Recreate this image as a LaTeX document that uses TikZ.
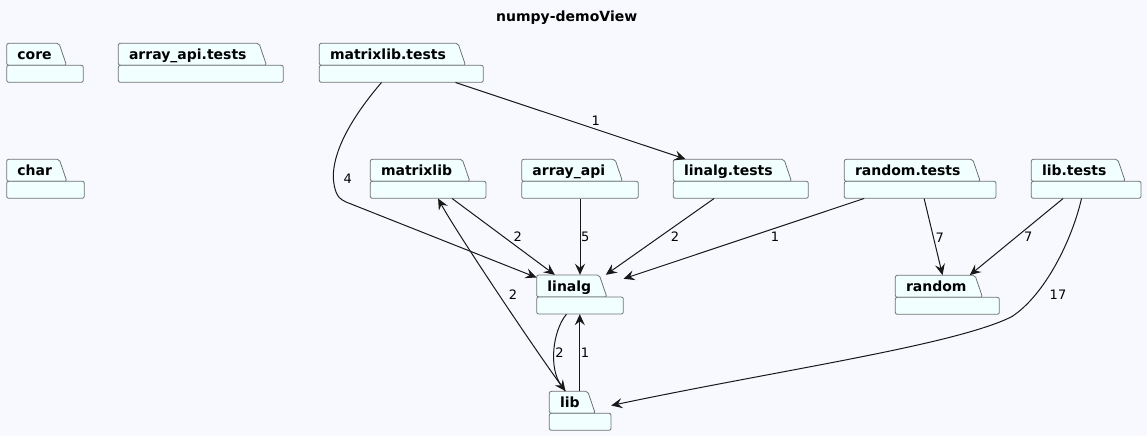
\documentclass[tikz,border=0pt]{standalone}
\usepackage{fontspec}
\setmainfont{DejaVu Sans}
\usetikzlibrary{arrows.meta,fit}

\definecolor{pagebg}{HTML}{F8F8FF}
\definecolor{pkgfill}{HTML}{F1FFFF}
\definecolor{pkgline}{HTML}{6E7373}
\definecolor{edgeline}{HTML}{181818}

\tikzset{
  pkgshape/.style={fill=pkgfill, draw=pkgline, line width=0.8pt, rounded corners=2pt},
  pkglabel/.style={anchor=base west, inner sep=0pt, font=\bfseries\fontsize{14}{16}\selectfont},
  dep/.style={draw=edgeline, line width=1pt, -{Stealth[length=11pt,width=10pt,inset=4pt]}},
  count/.style={inner sep=1pt, font=\fontsize{13}{15}\selectfont},
}

% #1 name, #2 label, #3 left, #4 top, #5 right, #6 end of tab
\newcommand{\pkg}[6]{%
  \draw[pkgshape] (#3,#4+22) -- (#3,#4) -- (#6,#4) -- (#6+7.5,#4+22) -- cycle;
  \draw[pkgshape] (#3,#4+22) rectangle (#5,#4+39);
  \node[pkglabel] (#1-txt) at (#3+10.5,#4+16) {#2};
  \node[fit={(#3,#4) (#5,#4+39)}, inner sep=0pt] (#1) {};
}

\begin{document}
\begin{tikzpicture}[x=1pt, y=-1pt]
  \fill[pagebg] (0,0) rectangle (1147,436);
  \useasboundingbox (0,0) rectangle (1147,436);

  \node[font=\bfseries\fontsize{14}{16}\selectfont] (title) at (566.7,18) {numpy-demoView};

  \pkg{core}{core}{6.7}{43.3}{83.3}{59}
  \pkg{aat}{array\_api.tests}{118.3}{43.3}{283.3}{259}
  \pkg{mlt}{matrixlib.tests}{319.3}{43.3}{483.3}{458}
  \pkg{chr}{char}{6.7}{159.3}{84.3}{59.3}
  \pkg{ml}{matrixlib}{370.3}{159.3}{486}{462.3}
  \pkg{aa}{array\_api}{521.7}{159.3}{638.3}{615}
  \pkg{lt}{linalg.tests}{673.3}{159.3}{808.3}{784}
  \pkg{rt}{random.tests}{844.3}{159.3}{996}{972.7}
  \pkg{lbt}{lib.tests}{1031.3}{159.3}{1141}{1117.7}
  \pkg{la}{linalg}{536.7}{275}{623.3}{599.3}
  \pkg{rd}{random}{895.3}{275.3}{999.3}{975}
  \pkg{lb}{lib}{549.3}{391.3}{611}{587.7}

  \draw[dep] ([xshift=62.4]mlt.south west)
    .. controls (345,125) and (326,165) .. (336,192)
    .. controls (338,197) and (340,199) .. (346,202)
    -- ([yshift=-2.7]la.north west);
  \node[count] (n4) at (347.7,178.3) {4};

  \draw[dep] ([xshift=136.4]mlt.south west) -- ([xshift=12.4]lt.north west);
  \node[count] (n1a) at (595.7,120.5) {1};

  \draw[dep] ([xshift=82]ml.south west) -- ([xshift=18.3]la.north west);
  \node[count] (n2a) at (517.7,236.7) {2};

  \draw[dep] ([xshift=16.2]lb.north west)
    .. controls (535,350) and (455,230) .. ([xshift=68]ml.south west);
  \node[count] (n2b) at (513,295) {2};

  \draw[dep] (aa.south) -- (aa.south |- la.north);
  \node[count] (n5) at (585.3,236.7) {5};

  \draw[dep] ([xshift=41]lt.south west) -- ([xshift=69.3]la.north west);
  \node[count] (n2c) at (675,236.7) {2};

  \draw[dep] ([xshift=20]rt.south west) -- ([yshift=-4]la.north east);
  \node[count] (n1b) at (775,236.7) {1};

  \draw[dep] ([xshift=80]rt.south west) -- ([xshift=47.4]rd.north west);
  \node[count] (n7a) at (939.8,237.3) {7};

  \draw[dep] ([xshift=32]lbt.south west) -- ([xshift=74.7]rd.north west);
  \node[count] (n7b) at (1028.3,237) {7};

  \draw[dep] ([xshift=50.4]lbt.south west)
    .. controls (1072,240) and (1045,295) .. (1011.7,316.7)
    .. controls (955,345) and (780,370) .. ([yshift=-14.4]lb.north east);
  \node[count] (n17) at (1058,295) {17};

  \draw[dep] ([xshift=30]la.south west)
    .. controls (553,330) and (548,368) .. ([xshift=16.4]lb.north west);
  \node[count] (n2d) at (559.5,352.7) {2};

  \draw[dep] ([xshift=30.7]lb.north west) -- ([xshift=43.3]la.south west);
  \node[count] (n1c) at (585,352.7) {1};
\end{tikzpicture}
\end{document}
